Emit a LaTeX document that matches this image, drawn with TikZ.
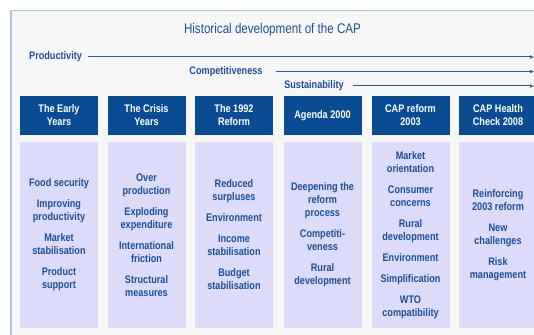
\documentclass[tikz,border=0pt]{standalone}
\usepackage{fontspec}
\setmainfont{Liberation Sans}[FakeStretch=0.83]
\usepackage{tikz}
\usetikzlibrary{arrows.meta}

\definecolor{capdark}{HTML}{0A4C94}
\definecolor{captext}{HTML}{1A4F9C}
\definecolor{capbody}{HTML}{DCDCFA}
\definecolor{capback}{HTML}{F7F7F7}
\definecolor{capframe}{HTML}{A9C6E8}
\definecolor{capline}{HTML}{2A5DA8}

\begin{document}
\begin{tikzpicture}[x=1pt, y=-1pt,
	header/.style={fill=capdark, text=white, minimum width=78pt, minimum height=39pt,
		inner sep=0pt, align=center, font=\bfseries\fontsize{11}{13}\selectfont},
	body/.style={fill=capbody, text=captext, minimum width=78pt, minimum height=186pt,
		inner sep=0pt, align=center, font=\bfseries\fontsize{11}{13}\selectfont},
	aim/.style={text=captext, inner sep=3pt, font=\bfseries\fontsize{11}{13}\selectfont},
	aimline/.style={capline, line width=1pt, -{Latex[length=4pt,width=4pt]}}]
	\useasboundingbox (0,0) rectangle (534,334);
	\draw [capframe, line width=1.2pt, fill=capback] (11,10.5) rectangle (560,360);
	\node [text=captext, font=\fontsize{14}{16}\selectfont] (title) at (272.5,30) {Historical development of the CAP};

	% the three aims
	\node [aim, anchor=west] (prod) at (26,57) {Productivity};
	\coordinate (prodend) at (534,57);
	\draw [aimline] (prod.east) ++(3,0) -- (prodend);
	\node [aim] (comp) at (226,71.5) {Competitiveness};
	\coordinate (compend) at (534,71.5);
	\draw [aimline] (comp.east) ++(10,0) -- (compend);
	\node [aim] (sust) at (314,86) {Sustainability};
	\coordinate (sustend) at (534,86);
	\draw [aimline] (sust.east) ++(6,0) -- (sustend);

	% headers
	\node [header] (early) at (59,115.5) {The Early\\Years};
	\node [header] (crisis) at (146.5,115.5) {The Crisis\\Years};
	\node [header] (reform) at (234,115.5) {The 1992\\Reform};
	\node [header] (agenda) at (322.5,115.5) {Agenda 2000};
	\node [header] (cap) at (410.5,115.5) {CAP reform\\2003};
	\node [header] (health) at (498,115.5) {CAP Health\\Check 2008};

	% contents
	\node [body] (earlyb) at (59,235) {Food security\\[8pt]Improving\\productivity\\[8pt]Market\\stabilisation\\[8pt]Product\\support};
	\node [body] (crisisb) at (146.5,235) {Over\\production\\[8pt]Exploding\\expenditure\\[8pt]International\\friction\\[8pt]Structural\\measures};
	\node [body] (reformb) at (234,235) {Reduced\\surpluses\\[8pt]Environment\\[8pt]Income\\stabilisation\\[8pt]Budget\\stabilisation};
	\node [body] (agendab) at (322.5,235) {Deepening the\\reform\\process\\[8pt]Competiti-\\veness\\[8pt]Rural\\development};
	\node [body] (capb) at (410.5,235) {Market\\orientation\\[8pt]Consumer\\concerns\\[8pt]Rural\\development\\[8pt]Environment\\[8pt]Simplification\\[8pt]WTO\\compatibility};
	\node [body] (healthb) at (498,235) {Reinforcing\\2003 reform\\[8pt]New\\challenges\\[8pt]Risk\\management};
\end{tikzpicture}
\end{document}
